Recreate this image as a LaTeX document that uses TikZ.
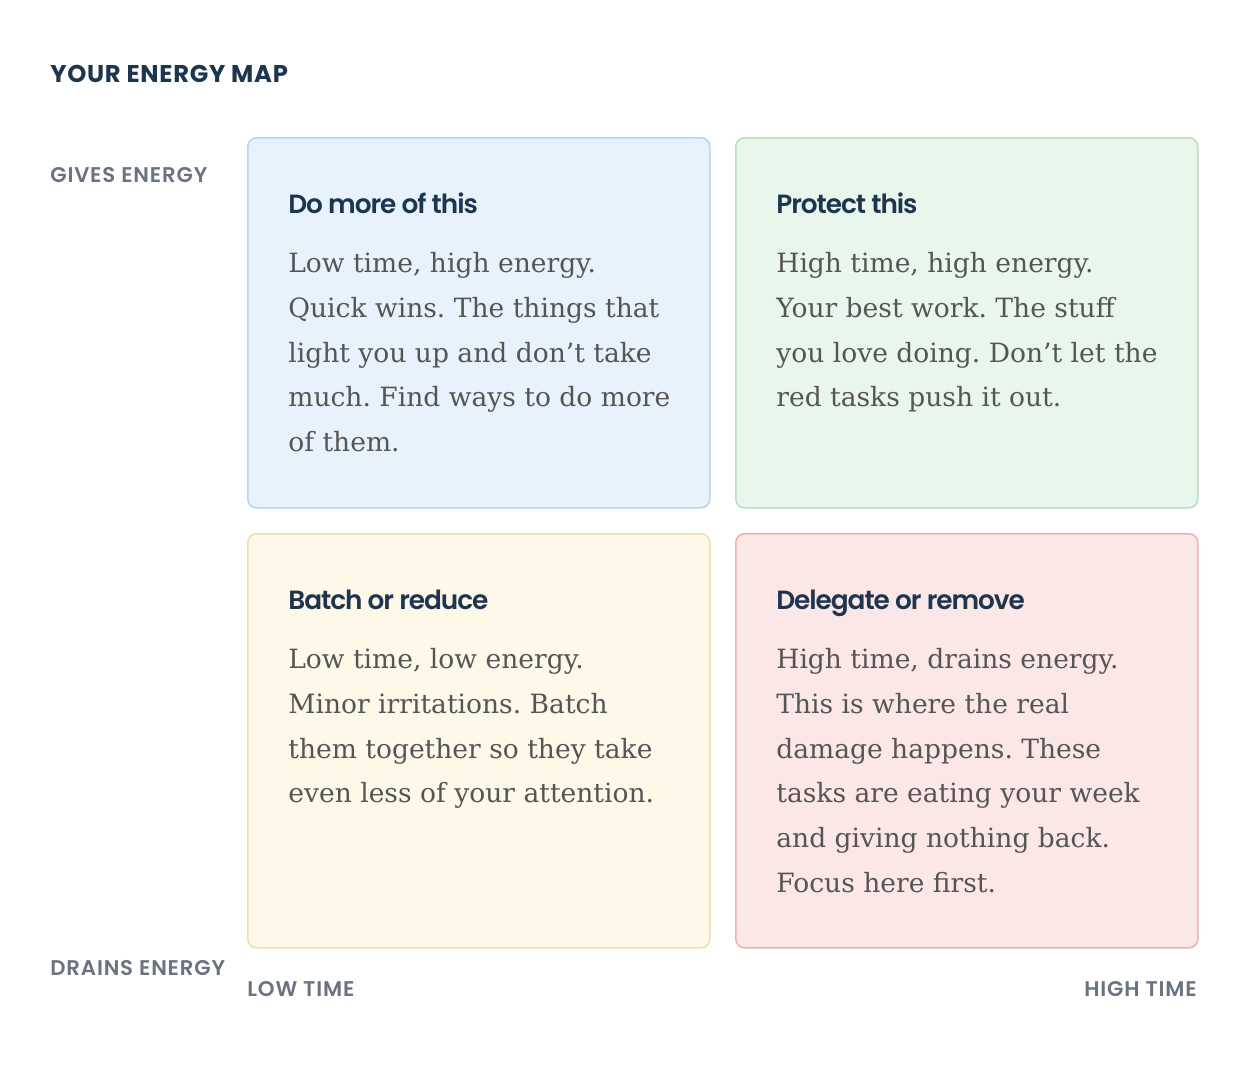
\documentclass[tikz,border=0pt]{standalone}
\usepackage{fontspec}
\setmainfont{DejaVu Serif}
\newfontfamily\headfont{Poppins SemiBold}[LetterSpace=-4]
\newfontfamily\capsfont{Poppins SemiBold}[LetterSpace=4]
\newfontfamily\bigcapsfont{Poppins Bold}[LetterSpace=3]
\usetikzlibrary{positioning}
\definecolor{navy}{HTML}{1E3550}
\definecolor{labelgray}{HTML}{6B7280}
\definecolor{bodygray}{HTML}{555555}
\definecolor{bluefill}{HTML}{E8F2FC}
\definecolor{blueline}{HTML}{B5D5F0}
\definecolor{greenfill}{HTML}{E9F6EC}
\definecolor{greenline}{HTML}{B9E0C0}
\definecolor{yellowfill}{HTML}{FEF8E8}
\definecolor{yellowline}{HTML}{F0E0A8}
\definecolor{redfill}{HTML}{FBE7E6}
\definecolor{redline}{HTML}{F0B0B0}
\frenchspacing

\begin{document}
\begin{tikzpicture}[
  quad/.style={draw, line width=0.9pt, rounded corners=5pt, anchor=north west, minimum width=9.24cm, inner sep=0pt},
  quadtitle/.style={anchor=base west, inner sep=0pt, text=navy, font=\headfont\fontsize{15pt}{18pt}\selectfont},
  quadbody/.style={anchor=north west, inner sep=0pt, align=left, text=bodygray, font=\fontsize{15.1pt}{25.5pt}\selectfont},
  axislabel/.style={inner sep=0pt, text=labelgray, font=\capsfont\fontsize{12.1pt}{14pt}\selectfont}
]
\useasboundingbox[fill=white] (0,0) rectangle (25,-21.36);
\node[anchor=west, inner sep=0pt, text=navy, font=\bigcapsfont\fontsize{13.8pt}{16pt}\selectfont] (maptitle) at (1,-1.48) {YOUR ENERGY MAP};

\node[quad, fill=bluefill, draw=blueline, minimum height=7.40cm] (tl) at (4.94,-2.74) {};
\node[quad, fill=greenfill, draw=greenline, minimum height=7.40cm] (tr) at (14.70,-2.74) {};
\node[quad, fill=yellowfill, draw=yellowline, minimum height=8.28cm] (bl) at (4.94,-10.66) {};
\node[quad, fill=redfill, draw=redline, minimum height=8.28cm] (br) at (14.70,-10.66) {};

\node[quadtitle] (tlhead) at ([shift={(0.82,-1.52)}]tl.north west) {Do more of this};
\node[quadtitle] (trhead) at ([shift={(0.82,-1.52)}]tr.north west) {Protect this};
\node[quadtitle] (blhead) at ([shift={(0.82,-1.52)}]bl.north west) {Batch or reduce};
\node[quadtitle] (brhead) at ([shift={(0.82,-1.52)}]br.north west) {Delegate or remove};

\node[quadbody] (tltext) at ([shift={(0.82,-2.30)}]tl.north west) {Low time, high energy.\\Quick wins. The things that\\light you up and don't take\\much. Find ways to do more\\of them.};
\node[quadbody] (trtext) at ([shift={(0.82,-2.30)}]tr.north west) {High time, high energy.\\Your best work. The stuff\\you love doing. Don't let the\\red tasks push it out.};
\node[quadbody] (bltext) at ([shift={(0.82,-2.30)}]bl.north west) {Low time, low energy.\\Minor irritations. Batch\\them together so they take\\even less of your attention.};
\node[quadbody] (brtext) at ([shift={(0.82,-2.30)}]br.north west) {High time, drains energy.\\This is where the real\\damage happens. These\\tasks are eating your week\\and giving nothing back.\\Focus here first.};

\node[axislabel, anchor=west] (gives) at (1,-3.5) {GIVES ENERGY};
\node[axislabel, anchor=west] (drains) at (1,-19.36) {DRAINS ENERGY};
\node[axislabel, anchor=west] (lowtime) at (4.94,-19.78) {LOW TIME};
\node[axislabel, anchor=east] (hightime) at (23.94,-19.78) {HIGH TIME};
\end{tikzpicture}
\end{document}
